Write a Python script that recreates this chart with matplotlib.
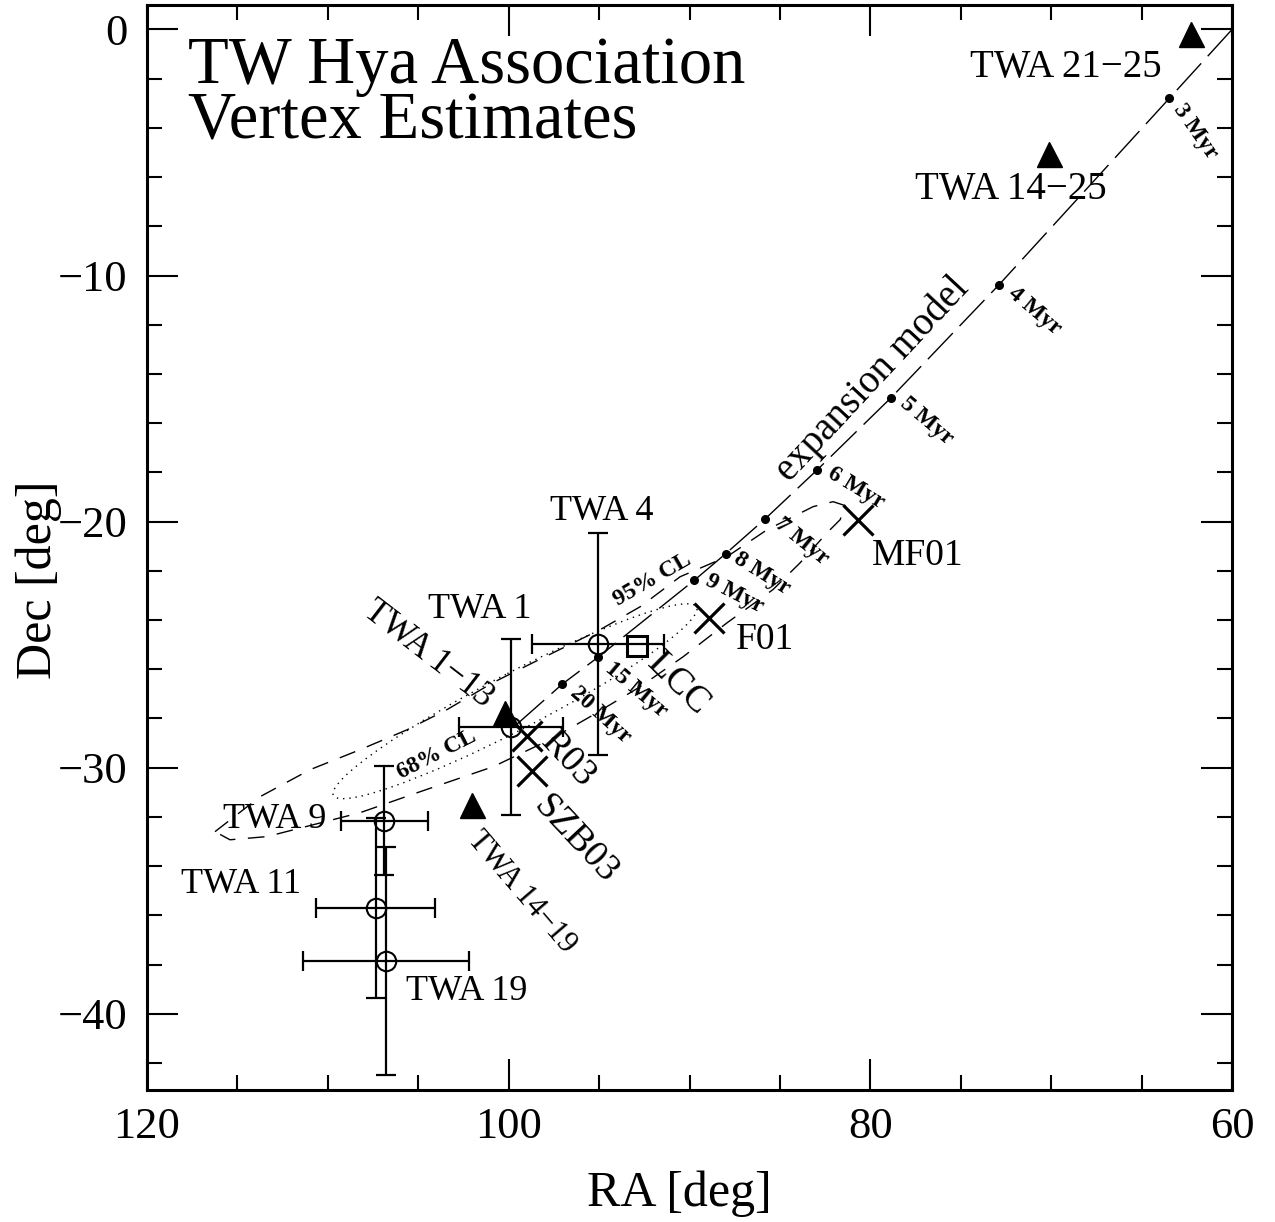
import numpy as np
import matplotlib
matplotlib.use('Agg')
import matplotlib.pyplot as plt
from matplotlib.patches import Ellipse
from matplotlib.ticker import MultipleLocator

# 字体：接近 PGPLOT 的衬线体
plt.rcParams['font.family'] = ['Liberation Serif', 'DejaVu Serif']

# 带误差棒的星团（空心圆）
obj_names = ['TWA 4', 'TWA 1', 'TWA 9', 'TWA 11', 'TWA 19']
obj_ra = [95.05, 99.87, 106.87, 107.35, 106.8]
obj_dec = [-24.97, -28.36, -32.15, -35.72, -37.85]
obj_ra_err = [3.65, 2.88, 2.4, 3.3, 4.6]
obj_dec_err = [4.52, 3.57, 2.2, 3.66, 4.63]

# 实心三角
tri_names = ['TWA 21-25', 'TWA 14-25', 'TWA 1-13', 'TWA 14-19']
tri_ra = [62.28, 70.11, 100.2, 102.04]
tri_dec = [-0.2, -5.04, -27.76, -31.5]

# 文献值（叉号）
lit_names = ['R03', 'SZB03', 'F01', 'MF01']
lit_ra = [99.0, 98.72, 88.95, 80.7]
lit_dec = [-28.73, -30.15, -23.9, -19.95]

# LCC（方块）
lcc_ra = [92.88]
lcc_dec = [-25.07]

# 膨胀模型轨迹
track_ra = [60.0, 63.47, 72.88, 78.85, 82.93, 85.82, 88.01, 89.73, 95.04, 97.03, 99.8]
track_dec = [0.0, -2.8, -10.37, -14.96, -17.89, -19.89, -21.31, -22.38, -25.5, -26.6, -28.4]
age_ra = track_ra[1:10]
age_dec = track_dec[1:10]
age_labels = ['3 Myr', '4 Myr', '5 Myr', '6 Myr', '7 Myr', '8 Myr', '9 Myr', '15 Myr', '20 Myr']

# 95% 置信轮廓
cl95_ra = [116.24, 113.75, 110.98, 108.22, 105.62, 103.41, 100.86, 98.65, 94.94, 92.73,
           90.52, 87.92, 85.71, 83.16, 82.06, 81.39, 81.67, 82.39, 83.88, 85.38,
           87.92, 90.35, 92.73, 95.50, 97.71, 100.86, 105.07, 108.22, 113.36, 115.41, 116.24]
cl95_dec = [-32.60, -31.18, -30.08, -29.27, -28.46, -27.64, -26.54, -25.73, -24.39, -23.46,
            -22.24, -21.42, -20.33, -19.39, -19.19, -19.35, -19.92, -20.45, -21.67, -22.76,
            -24.11, -25.49, -26.71, -27.93, -28.86, -29.96, -31.02, -31.83, -32.80, -32.93, -32.60]

# 68% 置信椭圆：中心、长轴、短轴、角度
cl68_center = (99.65, -27.3)
cl68_width = 21.5
cl68_height = 2.4
cl68_angle = 159.3

fig = plt.figure(figsize=(12.75, 12.22), dpi=100)
ax = fig.add_axes([0.1153, 0.108, 0.851, 0.888])

# 模型线和年龄点
ax.plot(track_ra, track_dec, color='k', lw=1, dashes=(26, 7))
ax.plot(age_ra, age_dec, 'o', color='k', ms=5.5)

# 置信轮廓
ax.plot(cl95_ra, cl95_dec, color='k', lw=1, dashes=(12, 9))
ell = Ellipse(cl68_center, cl68_width, cl68_height, angle=cl68_angle,
              fill=False, edgecolor='k', lw=1, linestyle=(0, (1, 3.5)))
ax.add_patch(ell)

# 误差棒
ax.errorbar(obj_ra, obj_dec, xerr=obj_ra_err, yerr=obj_dec_err, fmt='none',
            ecolor='k', elinewidth=1.6, capsize=7, capthick=1.6)
ax.plot(obj_ra, obj_dec, 'o', ms=14, mfc='none', mec='k', mew=1.5)

ax.plot(tri_ra, tri_dec, '^', ms=18, color='k')
ax.plot(lit_ra, lit_dec, 'x', ms=21, mew=2.3, color='k')
ax.plot(lcc_ra, lcc_dec, 's', ms=15, mfc='none', mec='k', mew=2.2)

# 文字标注：(文字, ra, dec, 角度, 字号, 粗细)
notes = [
    ('TWA 21\u221225', 69.17, -1.54, 0, 28, 'normal'),
    ('TWA 14\u221225', 72.21, -6.50, 0, 28, 'normal'),
    ('TWA 4', 94.83, -19.59, 0, 26, 'normal'),
    ('TWA 1', 101.58, -23.58, 0, 26, 'normal'),
    ('TWA 1\u221213', 104.46, -25.4, -37.6, 25, 'normal'),
    ('TWA 9', 112.92, -32.1, 0, 26, 'normal'),
    ('TWA 11', 114.8, -34.76, 0, 26, 'normal'),
    ('TWA 19', 102.3, -39.1, 0, 26, 'normal'),
    ('TWA 14\u221219', 99.26, -35.08, -49.4, 22, 'normal'),
    ('R03', 96.71, -29.67, -47, 27, 'normal'),
    ('SZB03', 96.33, -32.93, -47, 27, 'normal'),
    ('LCC', 90.63, -26.63, -45, 27, 'normal'),
    ('F01', 85.82, -24.8, 0, 27, 'normal'),
    ('MF01', 77.36, -21.38, 0, 27, 'normal'),
    ('95% CL', 92.07, -22.36, 30, 17, 'bold'),
    ('68% CL', 103.96, -29.47, 27, 17, 'bold'),
    ('expansion model', 79.9, -14.2, 47, 28, 'normal'),
]
for txt, x, y, rot, size, w in notes:
    ax.text(x, y, txt, rotation=rot, rotation_mode='anchor', ha='center', va='center',
            fontsize=size, fontweight=w)

age_pos = [(62.04, -4.15, -55), (70.89, -11.46, -40), (76.91, -15.93, -40),
           (80.78, -18.62, -31), (83.77, -20.81, -39), (85.98, -22.11, -32),
           (87.53, -22.93, -27), (92.95, -26.83, -40), (94.94, -27.85, -42)]
for lab, (x, y, rot) in zip(age_labels, age_pos):
    ax.text(x, y, lab, rotation=rot, rotation_mode='anchor', ha='center', va='center',
            fontsize=17, fontweight='bold')

# 标题
ax.text(0.038, 0.928, 'TW Hya Association', transform=ax.transAxes, fontsize=48, va='baseline')
ax.text(0.038, 0.877, 'Vertex Estimates', transform=ax.transAxes, fontsize=48, va='baseline')

# 坐标轴
ax.set_xlim(120, 60)
ax.set_ylim(-43.1, 1.0)
ax.xaxis.set_major_locator(MultipleLocator(20))
ax.xaxis.set_minor_locator(MultipleLocator(5))
ax.yaxis.set_major_locator(MultipleLocator(10))
ax.yaxis.set_minor_locator(MultipleLocator(2))
ax.tick_params(which='both', direction='in', top=True, right=True, width=1.5)
ax.tick_params(which='major', length=22)
ax.tick_params(which='minor', length=11)
ax.tick_params(axis='x', which='major', labelsize=32, pad=12)
ax.tick_params(axis='y', which='major', labelsize=32, pad=14)
for s in ax.spines.values():
    s.set_linewidth(2.2)

ax.set_xlabel('RA [deg]', fontsize=36)
ax.set_ylabel('Dec [deg]', fontsize=36)
ax.xaxis.set_label_coords(0.491, -0.074)
ax.yaxis.set_label_coords(-0.078, 0.47)

fig.savefig('out.png', dpi=100)
